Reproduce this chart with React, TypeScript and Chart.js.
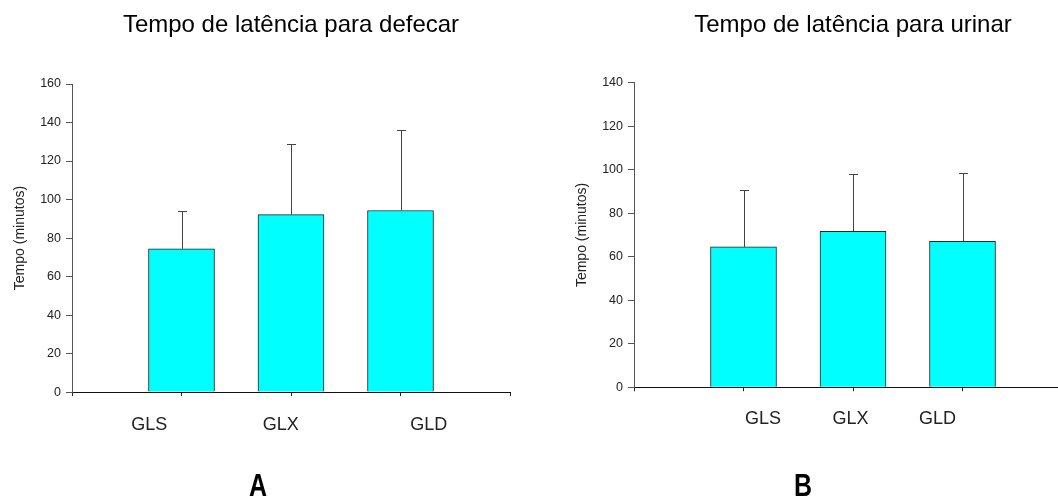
import React, { useEffect, useRef } from "react";
import { Chart, registerables } from "chart.js";

Chart.register(...registerables);

// ---- data ----
const CATEGORIES = ["", "GLS", "GLX", "GLD", ""];
const GROUP_LABELS = ["GLS", "GLX", "GLD"];

const DEFECAR_MEAN = [null, 74.4, 92.2, 94.3, null];
const DEFECAR_SD = [null, 19.7, 36.6, 41.6, null];

const URINAR_MEAN = [null, 64.5, 71.7, 67.1, null];
const URINAR_SD = [null, 26.1, 26.4, 31.2, null];

const TITLE_A = "Tempo de latência para defecar";
const TITLE_B = "Tempo de latência para urinar";
const Y_TITLE = "Tempo (minutos)";

const Y_MAX_A = 160;
const Y_MAX_B = 140;

// label anchor positions (in category units) as drawn in the source
const LABEL_POS_A = [0.705, 1.907, 3.258];
const LABEL_POS_B = [1.178, 1.977, 2.772];

const FONT = "'Liberation Sans', Arial, Helvetica, sans-serif";

const errorBarPlugin = {
  id: "errorBars",
  afterDatasetsDraw(chart: any) {
    const sd: (number | null)[] = chart.options.plugins.errorBars?.sd || [];
    const meta = chart.getDatasetMeta(0);
    const yScale = chart.scales.y;
    const data = chart.data.datasets[0].data as (number | null)[];
    const ctx = chart.ctx;
    ctx.save();
    ctx.strokeStyle = "#444";
    ctx.lineWidth = 1;
    meta.data.forEach((bar: any, i: number) => {
      const v = data[i];
      const e = sd[i];
      if (v == null || e == null) return;
      const x = Math.round(bar.x) + 0.5;
      const yTop = Math.round(yScale.getPixelForValue(v + e)) + 0.5;
      const yBase = bar.y;
      ctx.beginPath();
      ctx.moveTo(x, yBase);
      ctx.lineTo(x, yTop);
      ctx.moveTo(x - 4.5, yTop);
      ctx.lineTo(x + 4.5, yTop);
      ctx.stroke();
    });
    ctx.restore();
  },
};

function makeConfig(
  title: string,
  means: (number | null)[],
  sds: (number | null)[],
  yMax: number,
  labelPos: number[],
  titleBottomPad: number,
  labelPad: number,
  bottomPad: number
): any {
  return {
    type: "bar",
    data: {
      labels: CATEGORIES,
      datasets: [
        {
          data: means,
          backgroundColor: "#00FFFF",
          borderColor: "#222",
          borderWidth: 1,
          barThickness: 66,
        },
      ],
    },
    plugins: [errorBarPlugin],
    options: {
      responsive: false,
      animation: false,
      devicePixelRatio: 1,
      layout: { padding: { left: 8, right: 72, top: 0, bottom: bottomPad } },
      plugins: {
        legend: { display: false },
        tooltip: { enabled: false },
        title: {
          display: true,
          text: title,
          fullSize: false,
          color: "#000",
          font: { family: FONT, size: 24, weight: "normal", lineHeight: 1.2 },
          padding: { top: 11, bottom: titleBottomPad },
        },
        errorBars: { sd: sds },
      },
      scales: {
        x: {
          type: "category",
          offset: false,
          weight: 0,
          grid: {
            display: true,
            offset: false,
            drawOnChartArea: false,
            drawTicks: true,
            tickLength: 4,
            color: "#222",
          },
          border: { display: true, color: "#111", width: 1 },
          ticks: { display: false },
        },
        x2: {
          type: "linear",
          position: "bottom",
          weight: 1,
          offset: false,
          min: 0,
          max: 4,
          grid: { display: false, offset: false },
          border: { display: false },
          afterBuildTicks: (s: any) => {
            s.ticks = labelPos.map((v) => ({ value: v }));
          },
          ticks: {
            autoSkip: false,
            maxRotation: 0,
            padding: labelPad,
            color: "#222",
            font: { family: FONT, size: 18 },
            callback: (_v: any, i: number) => GROUP_LABELS[i],
          },
        },
        y: {
          min: 0,
          max: yMax,
          afterFit: (s: any) => {
            s.width = 64;
          },
          grid: {
            display: true,
            drawOnChartArea: false,
            drawTicks: true,
            tickLength: 6,
            color: "#555",
          },
          border: { display: true, color: "#555", width: 1 },
          ticks: {
            stepSize: 20,
            padding: 5,
            color: "#222",
            font: { family: FONT, size: 12.5 },
          },
          title: {
            display: true,
            text: Y_TITLE,
            color: "#222",
            font: { family: FONT, size: 14 },
            padding: { top: 4, bottom: 4 },
          },
        },
      },
    },
  };
}

function BarChart(props: { config: any; left: number }) {
  const ref = useRef<HTMLCanvasElement | null>(null);
  useEffect(() => {
    if (!ref.current) return;
    const chart = new Chart(ref.current, props.config);
    return () => chart.destroy();
  }, []);
  return (
    <canvas
      ref={ref}
      width={582}
      height={499}
      style={{ position: "absolute", left: props.left, top: 0, width: 582, height: 499 }}
    />
  );
}

const letterStyle = (cx: number): React.CSSProperties => ({
  position: "absolute",
  left: cx - 20,
  top: 469,
  width: 40,
  textAlign: "center",
  fontFamily: FONT,
  fontWeight: "bold",
  fontSize: 32,
  lineHeight: "32px",
  color: "#000",
  transform: "scaleX(0.78)",
});

export default function App() {
  const cfgA = makeConfig(TITLE_A, DEFECAR_MEAN, DEFECAR_SD, Y_MAX_A, LABEL_POS_A, 44.2, 10.3, 52.7);
  const cfgB = makeConfig(TITLE_B, URINAR_MEAN, URINAR_SD, Y_MAX_B, LABEL_POS_B, 42.9, 9.4, 59.4);
  return (
    <div
      style={{
        position: "fixed",
        left: 0,
        top: 0,
        width: 1058,
        height: 499,
        overflow: "hidden",
        background: "#fff",
      }}
    >
      <BarChart config={cfgA} left={0} />
      <BarChart config={cfgB} left={562} />
      <div style={letterStyle(258)}>A</div>
      <div style={letterStyle(802.5)}>B</div>
    </div>
  );
}
